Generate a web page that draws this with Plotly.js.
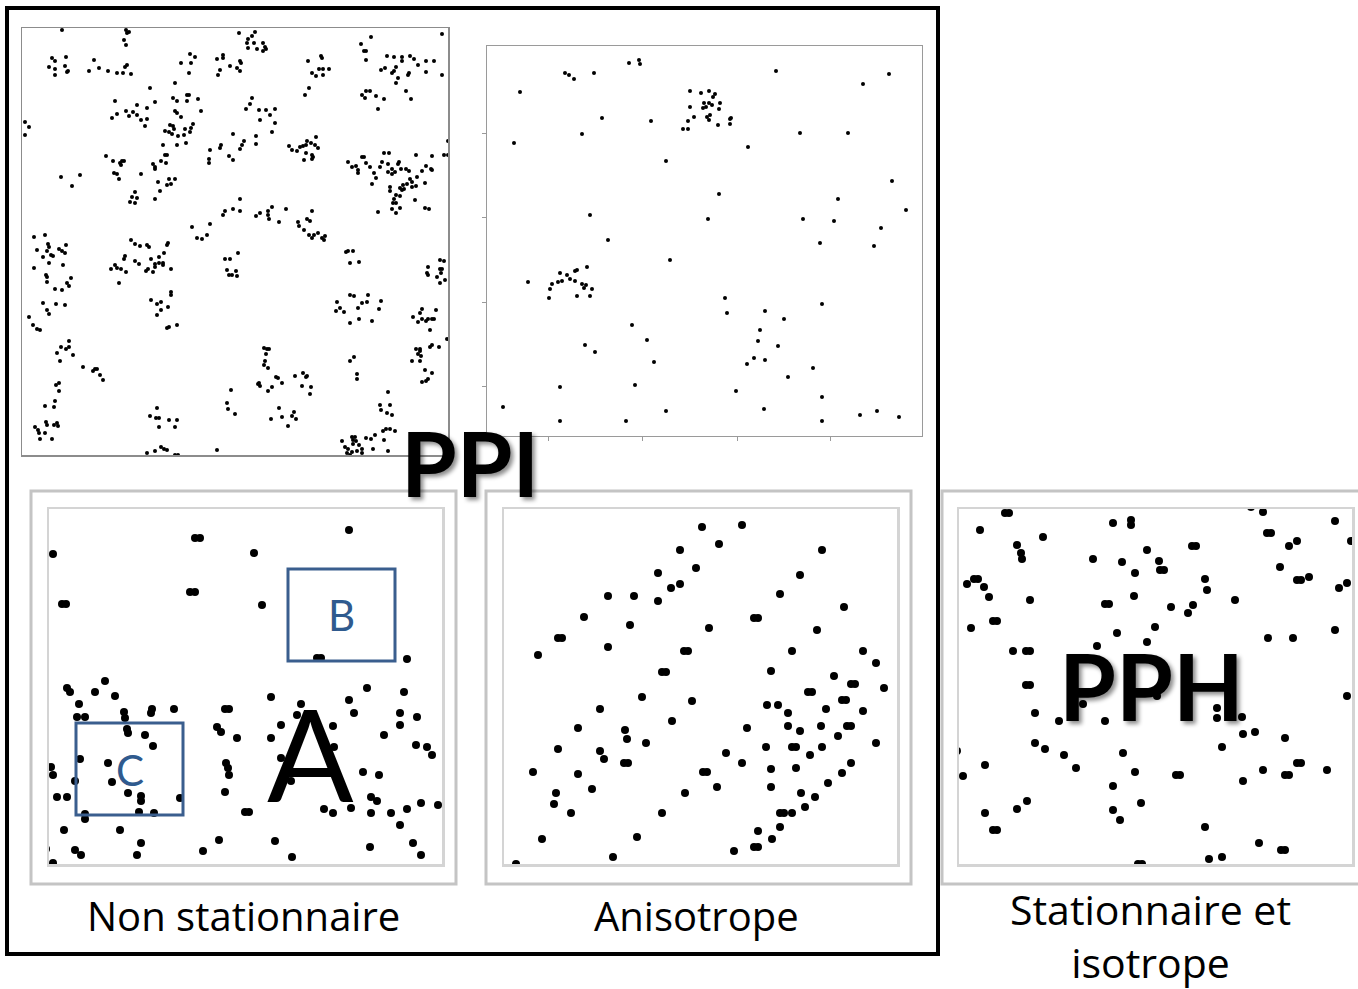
<!DOCTYPE html>
<html>
<head>
<meta charset="utf-8">
<script src="https://cdn.plot.ly/plotly-3.0.1.min.js"></script>
<style>html,body{margin:0;padding:0;background:#fff;}#chart{width:1358px;height:989px;}</style>
</head>
<body>
<div id="chart"></div>
<script>
// ---- DATA (point coordinates, in picture units) ----
// Panel 1 : PPI agrégé (clusters)
const ppiClusterPts = [
[62,30],[126,30],[127,33],[129,32],[124,40],[126,45],
[52,58],[55,61],[49,67],[55,69],[55,75],[66,57],[65,66],[67,72],[68,71],
[94,60],[89,71],[99,68],[108,71],[117,73],[123,73],[125,67],[127,65],[131,74],
[190,54],[195,57],[181,63],[191,63],[189,73],
[223,55],[223,58],[217,59],[230,66],[220,70],[218,75],
[150,88],[175,83],[155,102],[173,98],[177,101],[187,95],[189,95],[187,101],[198,99],[201,111],
[115,101],[117,114],[112,118],[126,111],[129,116],[133,112],[137,105],[137,115],[141,120],[147,108],[147,119],[145,126],
[175,111],[177,113],[181,117],[170,125],[173,126],[174,129],[165,131],[169,132],[172,134],[178,136],[184,135],[185,129],[190,132],[191,128],[193,124],[177,145],[186,143],
[25,122],[29,127],[25,135],[233,134],
[163,145],[165,155],[167,155],[161,161],[166,163],[153,164],[155,167],[155,169],
[106,156],[113,161],[120,163],[122,161],[124,161],[121,165],[114,173],[117,174],[119,179],
[61,177],[80,175],[72,186],
[141,174],[158,182],[169,179],[175,179],[171,184],[167,185],[160,191],[155,199],
[135,192],[132,197],[137,198],[130,202],[135,203],
[210,150],[209,159],[209,163],[220,148],[221,145],[229,156],[233,160],
[223,215],[225,211],[233,209],
[192,227],[210,224],[207,235],[197,238],[202,239],
[34,237],[45,235],[131,240],
[239,33],[255,32],[252,36],[248,39],[247,43],[254,43],[248,48],[257,49],[263,43],[265,47],[266,49],[263,51],
[240,61],[241,63],[237,68],[240,71],
[308,61],[321,56],[322,58],[319,69],[323,69],[329,69],[312,73],[316,76],[323,75],
[309,88],[305,95],
[361,44],[371,37],[364,51],[366,51],[366,60],[442,34],
[387,56],[394,57],[402,57],[410,56],[414,59],[402,61],[426,61],[434,61],[418,65],[381,70],[385,68],[396,67],[394,71],[392,73],[409,73],[408,75],[426,72],[442,75],[398,78],[396,83],
[362,95],[366,91],[370,91],[365,98],[376,96],[384,99],[378,109],
[406,91],[411,99],
[252,98],[250,104],[246,109],[259,110],[266,110],[275,109],[270,115],[260,120],[275,123],[272,132],
[244,141],[242,145],[240,149],[256,136],[256,144],
[289,146],[292,150],[297,151],[300,147],[303,146],[306,145],[307,141],[316,137],[311,143],[315,145],[318,148],[306,153],[312,155],[313,157],[312,159],[304,160],
[348,162],[352,167],[356,166],[358,170],[358,173],[362,157],[364,157],[366,163],[370,167],[374,173],[376,178],[380,167],[382,162],[384,153],[389,153],[388,164],[388,172],[392,174],[392,169],[395,172],[398,164],[399,162],[401,169],[406,169],[409,171],[416,155],[422,171],[426,166],[432,156],[431,169],[432,170],[444,155],[448,155],[448,141],[372,184],
[390,187],[390,191],[400,188],[402,190],[404,189],[403,185],[407,184],[412,182],[412,187],[416,186],[417,177],[410,179],[425,183],[396,195],[400,196],[394,199],[393,203],[396,203],[400,208],[392,209],[396,213],[415,200],[425,208],[429,209],[378,212],
[240,199],[240,211],[256,216],[260,213],[268,211],[272,207],[268,215],[269,219],[279,222],[286,209],[312,211],[307,219],[310,221],[298,222],[299,226],[304,230],[309,235],[314,235],[312,238],[318,233],[322,238],[325,236],[324,240],
[37,250],[48,244],[49,247],[47,251],[51,255],[53,256],[43,257],[49,263],[59,249],[62,251],[65,253],[66,245],[63,265],[34,268],
[46,275],[47,277],[47,282],[55,289],[62,290],[67,283],[69,286],[71,278],
[43,303],[47,310],[49,314],[56,304],[65,305],[29,317],[33,325],[37,329],[40,330],
[69,341],[61,347],[66,349],[69,347],[57,353],[73,355],[60,361],
[83,367],[93,371],[95,369],[97,369],[100,375],[103,380],
[56,385],[59,383],[59,391],[55,401],[54,407],[45,406],
[46,422],[47,425],[35,427],[38,430],[39,433],[40,439],[45,433],[54,425],[57,423],[58,426],[52,439],
[135,244],[140,246],[147,245],[149,247],[168,243],[167,245],
[125,256],[124,259],[135,261],[139,264],[111,269],[115,265],[117,268],[121,269],[126,272],[119,283],
[151,259],[159,257],[164,253],[155,264],[155,267],[148,269],[146,271],[153,272],[159,263],[163,263],[163,265],[171,269],
[171,292],[171,295],
[151,300],[157,304],[161,302],[168,307],[161,310],[157,315],
[167,328],[169,327],[177,325],
[225,259],[230,259],[227,270],[229,275],[232,275],
[157,408],[150,416],[156,418],[159,418],[159,427],[169,420],[177,420],[175,427],
[231,390],[227,403],[228,409],[235,414],
[147,453],[155,451],[161,447],[164,449],[167,450],[175,455],[178,455],[217,450],
[238,253],[236,271],[237,276],
[346,252],[348,251],[353,251],[350,263],[359,262],
[428,267],[427,273],[428,275],[440,260],[444,261],[440,269],[442,269],[441,273],[437,277],[445,280],[440,283],
[350,295],[354,296],[368,295],[362,303],[367,302],[358,308],[381,301],[379,309],[337,302],[340,308],[336,311],[344,312],[350,323],[359,319],[372,321],
[422,309],[420,313],[413,317],[418,322],[422,319],[426,321],[428,319],[432,319],[434,319],[436,310],[430,330],
[432,345],[430,347],[439,347],[447,339],[416,349],[420,349],[420,351],[418,354],[421,356],[412,361],[420,361],[425,370],[432,373],[428,379],[426,381],[422,382],
[264,348],[267,349],[269,349],[266,354],[265,361],[264,365],[268,368],
[354,357],[350,361],[357,374],[357,379],
[259,383],[258,384],[260,386],[268,391],[272,387],[276,377],[278,378],[282,383],[295,376],[303,373],[306,377],[307,376],[302,386],[311,387],[310,394],
[279,408],[271,419],[282,417],[292,416],[294,412],[296,419],[288,426],
[388,392],[380,405],[390,405],[381,410],[387,413],[392,415],
[342,441],[345,447],[352,437],[355,437],[353,440],[353,444],[356,441],[359,445],[348,449],[352,452],[357,451],[362,449],[362,453],[366,438],[371,439],[375,435],[383,431],[386,429],[390,429],[395,431],[384,440],[373,449],[388,451],[347,453],[350,455]
];

// Panel 2 : PPI peu dense avec deux agrégats
const ppiSparsePts = [
[520,92],[514,143],[565,73],[569,75],[574,79],[594,73],[629,63],[639,60],[640,64],[602,118],[582,134],[651,121],[666,161],
[690,91],[701,93],[709,91],[715,94],[713,97],[704,103],[709,103],[712,105],[720,103],[690,107],[703,108],[706,107],[719,109],
[694,117],[688,121],[683,129],[688,129],[707,117],[710,115],[709,120],[718,125],[730,119],[731,118],[730,124],
[776,71],[863,84],[889,74],[748,147],[800,133],[848,133],[892,181],[906,210],[838,199],[803,219],[834,221],[881,228],[820,243],[874,246],
[719,194],[708,219],[590,215],[608,240],[670,260],
[528,282],[560,273],[575,271],[577,270],[587,267],[567,275],[570,279],[562,281],[558,282],[552,284],[550,289],[549,298],[575,281],[582,284],[586,285],[584,288],[592,289],[577,296],[590,296],
[725,298],[727,313],[765,311],[784,319],[760,330],[758,341],[778,346],[754,358],[747,364],[765,360],[822,304],[813,368],[788,377],[736,391],[822,397],[764,409],[822,421],[860,415],[877,411],[899,417],
[632,325],[647,340],[654,362],[585,345],[595,352],[560,387],[635,385],[503,407],[560,421],[626,421],[666,411]
];
const sparseXTicks = [548,642,737,830];
const sparseYTicks = [133,217,302,386];

// Panel 3 : Non stationnaire
const nonStatPts = [
[195,538],[200,538],[53,554],[254,553],[349,530],[62,604],[66,604],[190,592],[195,592],[262,605],[317,658],[321,658],[407,659],
[67,688],[70,692],[105,681],[95,692],[115,696],[79,704],[77,717],[85,717],[124,712],[125,718],[152,709],[151,713],[174,709],
[127,729],[128,733],[145,735],[153,746],[108,763],[112,782],[128,793],[141,796],[141,801],[139,812],[154,813],[180,798],
[51,767],[53,775],[75,781],[80,759],[57,797],[67,797],[85,814],[85,819],[64,830],[120,830],[141,843],[137,855],[46,849],[53,863],[75,850],[81,855],
[225,709],[229,709],[217,727],[221,732],[237,738],[226,763],[228,768],[229,775],[225,792],[245,812],[249,812],
[271,697],[301,704],[297,715],[281,725],[271,738],[281,758],[291,781],[333,726],[334,747],
[349,700],[354,713],[367,688],[404,692],[400,713],[400,725],[417,717],[384,735],[416,745],[427,747],[432,755],
[363,772],[379,775],[371,797],[377,801],[371,813],[351,808],[324,809],[333,813],[391,813],[400,825],[407,809],[421,803],[438,805],
[370,847],[413,843],[421,855],[292,857],[275,841],[219,840],[203,851]
];

// Panel 4 : Anisotrope
const anisoPts = [
[702,527],[719,544],[742,525],[680,550],[696,568],[658,573],[671,588],[680,584],[658,601],[608,596],[634,596],[584,617],
[558,638],[562,638],[538,655],[608,647],[630,625],[709,628],[684,651],[688,651],[662,672],[666,672],[642,697],[692,701],[600,709],[672,721],
[578,728],[625,730],[627,739],[646,743],[558,749],[600,751],[604,759],[624,763],[628,763],[533,772],[578,774],[592,789],[556,793],[554,804],
[571,813],[542,839],[516,864],[613,857],[637,837],[662,813],[685,793],[703,772],[707,772],[717,787],[726,753],[742,763],[747,728],
[754,618],[758,618],[780,594],[800,575],[822,550],[844,607],[817,630],[792,651],[771,671],[863,651],[876,663],[834,676],[851,684],[855,684],
[808,692],[812,692],[884,688],[767,705],[778,705],[788,713],[826,709],[842,700],[846,700],[863,711],[788,726],[800,731],[821,726],
[847,726],[851,726],[838,736],[876,743],[766,747],[792,747],[796,747],[810,755],[822,747],[771,769],[796,768],[771,787],[828,783],
[842,773],[851,763],[801,793],[815,797],[805,807],[780,813],[784,813],[792,813],[780,827],[758,831],[772,839],[754,847],[758,847],[734,851]
];

// Panel 5 : PPH (stationnaire et isotrope)
const pphPts = [
[1005,513],[1009,513],[980,530],[1043,537],[1017,545],[1021,553],[1022,559],[1113,523],[1131,520],[1131,525],[1147,550],[1192,546],[1196,546],
[1251,507],[1263,512],[1335,521],[1267,533],[1271,533],[1289,546],[1297,541],[1351,541],[1280,567],[1297,580],[1301,580],[1309,577],[1339,588],[1347,583],
[1335,630],[1268,638],[1293,638],[1347,696],
[1093,559],[1122,562],[1135,573],[1159,561],[1160,570],[1164,570],[1205,579],[1207,590],[1235,600],[1134,596],[1105,604],[1109,604],
[1171,607],[1193,605],[1188,613],[1155,627],[1117,633],[1147,642],[1097,646],
[967,584],[974,579],[978,579],[984,587],[989,597],[1030,600],[971,628],[993,621],[997,621],[1013,651],[1026,651],[1030,651],
[1026,685],[1030,685],[1035,713],[1059,721],[1105,721],[1083,704],[1157,696],[1217,708],[1217,718],[1242,717],[1243,734],[1255,732],[1285,738],[1222,747],
[1035,743],[1045,749],[1064,755],[1076,768],[953,751],[957,751],[985,765],[963,776],[1123,753],[1135,772],[1176,775],[1180,775],[1243,781],[1263,770],
[1285,775],[1289,775],[1297,763],[1301,763],[1327,770],
[1113,786],[1141,803],[1113,810],[1120,820],[1027,801],[1017,809],[985,813],[993,830],[997,830],[1205,827],[1259,843],[1281,850],[1285,850],
[1209,859],[1222,857],[1138,864],[1142,864]
];

// Texts
const panelLabels = ["Non stationnaire", "Anisotrope", "Stationnaire et<br>isotrope"];
const bigLabels = ["PPI", "PPH", "A", "B", "C"];

// ---- FIGURE ----
const W = 1358, H = 989;
const px = v => v / W;
const py = v => 1 - v / H;

// panel frames (picture units): [x0, x1, y0(top), y1(bottom)]
const frames = [
  [22, 448, 28, 455],
  [487, 922, 46, 436],
  [49, 442, 509, 864],
  [504, 897, 509, 864],
  [959, 1352, 509, 864]
];
const datasets = [ppiClusterPts, ppiSparsePts, nonStatPts, anisoPts, pphPts];
const msize = [4, 4, 8, 8, 8];
const lineCols = ['#8c8c8c', '#9a9a9a', '#d4d4d4', '#d4d4d4', '#d4d4d4'];
const lineW = [1.5, 1.2, 2.5, 2.5, 2.5];

const traces = [];
const layout = {
  width: W, height: H,
  margin: {l: 0, r: 0, t: 0, b: 0},
  paper_bgcolor: '#ffffff', plot_bgcolor: 'rgba(0,0,0,0)',
  showlegend: false,
  shapes: [], annotations: []
};

frames.forEach((f, i) => {
  const n = i + 1;
  const xa = n === 1 ? 'xaxis' : 'xaxis' + n;
  const ya = n === 1 ? 'yaxis' : 'yaxis' + n;
  const pts = datasets[i];
  traces.push({
    type: 'scatter', mode: 'markers',
    x: pts.map(p => p[0]), y: pts.map(p => p[1]),
    xaxis: 'x' + (n === 1 ? '' : n), yaxis: 'y' + (n === 1 ? '' : n),
    marker: {color: '#000000', size: msize[i], line: {width: 0}},
    hoverinfo: 'skip'
  });
  const common = {
    showgrid: false, zeroline: false, showticklabels: false,
    showline: true, mirror: true, linecolor: lineCols[i], linewidth: lineW[i],
    fixedrange: true, ticks: ''
  };
  layout[xa] = Object.assign({}, common, {
    domain: [px(f[0]), px(f[1])], range: [f[0], f[1]],
    anchor: 'y' + (n === 1 ? '' : n)
  });
  layout[ya] = Object.assign({}, common, {
    domain: [py(f[3]), py(f[2])], range: [f[3], f[2]],
    anchor: 'x' + (n === 1 ? '' : n)
  });
  if (n === 2) {
    layout[xa].ticks = 'outside'; layout[xa].tickvals = sparseXTicks; layout[xa].ticklen = 4; layout[xa].tickcolor = '#9a9a9a';
    layout[ya].ticks = 'outside'; layout[ya].tickvals = sparseYTicks; layout[ya].ticklen = 4; layout[ya].tickcolor = '#9a9a9a';
  }
});

// outer frames of the three bottom panels
[[31, 456], [486, 911], [942, 1375]].forEach(b => {
  layout.shapes.push({type: 'rect', xref: 'paper', yref: 'paper',
    x0: px(b[0]), x1: px(b[1]), y0: py(884), y1: py(491),
    line: {color: '#c4c4c4', width: 3}, layer: 'below'});
});
// big black frame (PPI)
layout.shapes.push({type: 'rect', xref: 'paper', yref: 'paper',
  x0: px(7), x1: px(938), y0: py(954), y1: py(8),
  line: {color: '#000000', width: 4}});
// boxes B and C
const boxCol = '#3a5e8e';
layout.shapes.push({type: 'rect', xref: 'x3', yref: 'y3', x0: 288, x1: 395, y0: 661, y1: 569, line: {color: boxCol, width: 3}});
layout.shapes.push({type: 'rect', xref: 'x3', yref: 'y3', x0: 76, x1: 183, y0: 815, y1: 723, line: {color: boxCol, width: 3}});

const fam = 'Lato, "Open Sans", sans-serif';
const famText = '"Open Sans", Lato, sans-serif';
function ann(text, x, y, size, opts) {
  layout.annotations.push(Object.assign({
    text: text, xref: 'paper', yref: 'paper', x: px(x), y: py(y),
    xanchor: 'center', yanchor: 'middle', showarrow: false, borderpad: 0,
    font: {family: famText, size: size, color: '#000000'}
  }, opts || {}));
}
ann(panelLabels[0], 243, 915, 40);
ann(panelLabels[1], 697, 915, 40);
ann(panelLabels[2], 1150, 935, 41);
ann('<b>' + bigLabels[0] + '</b>', 470, 462, 90, {font: {family: fam, size: 90, color: '#000000', shadow: '3px 3px 4px rgba(0,0,0,0.45)'}});
ann('<b>' + bigLabels[1] + '</b>', 1151, 685, 92, {font: {family: fam, size: 92, color: '#000000', shadow: '3px 3px 4px rgba(0,0,0,0.45)'}});
ann(bigLabels[2], 310, 752, 128, {font: {family: fam, size: 128, color: '#000000'}});
ann(bigLabels[3], 341, 615, 42, {font: {family: fam, size: 42, color: '#2f5a8e'}});
ann(bigLabels[4], 130, 770, 42, {font: {family: fam, size: 42, color: '#2f5a8e'}});

Plotly.newPlot('chart', traces, layout, {staticPlot: true, displayModeBar: false});
</script>
</body>
</html>
